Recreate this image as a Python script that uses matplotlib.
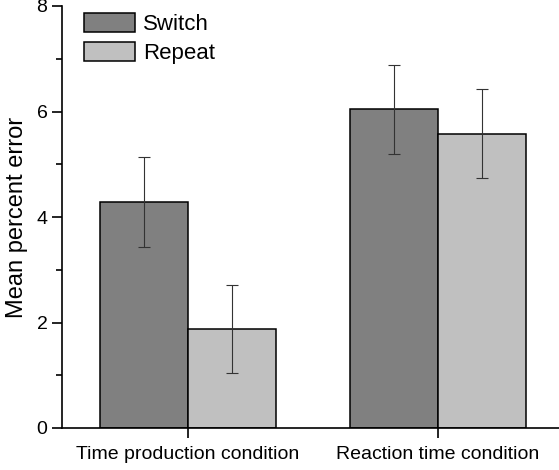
import matplotlib.pyplot as plt
import numpy as np

plt.rcParams['font.family'] = ['Liberation Sans', 'DejaVu Sans']

# Daten
condicoes = ['Time production condition', 'Reaction time condition']
switch_media = [4.29, 6.04]
switch_erro = [0.85, 0.84]
repeat_media = [1.88, 5.58]
repeat_erro = [0.84, 0.84]

fig = plt.figure(figsize=(5.59, 4.70), dpi=100)
ax = fig.add_axes([62 / 559, 1 - 428 / 470, 1 - 62 / 559, 422 / 470])

x = np.arange(len(condicoes))
largura = 0.352

ax.bar(x - largura / 2, switch_media, largura, color='#808080', edgecolor='black',
       linewidth=1.1, label='Switch', zorder=2)
ax.bar(x + largura / 2, repeat_media, largura, color='#c0c0c0', edgecolor='black',
       linewidth=1.1, label='Repeat', zorder=2)
ax.errorbar(x - largura / 2, switch_media, yerr=switch_erro, fmt='none',
            ecolor='#333333', elinewidth=0.8, capsize=4.5, capthick=0.8, zorder=3)
ax.errorbar(x + largura / 2, repeat_media, yerr=repeat_erro, fmt='none',
            ecolor='#333333', elinewidth=0.8, capsize=4.5, capthick=0.8, zorder=3)

ax.set_xlim(-0.504, 1.484)
ax.set_ylim(0, 8)
ax.set_xticks(x)
ax.set_xticklabels(condicoes, fontsize=14)
ax.set_yticks([0, 2, 4, 6, 8])
ax.set_yticks([1, 3, 5, 7], minor=True)
ax.tick_params(axis='y', labelsize=14, direction='out', length=7, width=1.2)
ax.tick_params(axis='y', which='minor', direction='out', length=4, width=1.2)
ax.tick_params(axis='x', direction='out', length=7, width=1.2, pad=6)
ax.set_ylabel('Mean percent error', fontsize=17, labelpad=6)

for lado in ['top', 'right']:
    ax.spines[lado].set_visible(False)
ax.spines['left'].set_linewidth(1.2)
ax.spines['bottom'].set_linewidth(1.2)

ax.legend(loc='upper left', bbox_to_anchor=(0.044, 0.984), frameon=False,
          fontsize=16, handlelength=2.3, handleheight=0.95, labelspacing=0.32,
          handletextpad=0.36, borderpad=0, borderaxespad=0)

fig.savefig('out.png', dpi=100)
